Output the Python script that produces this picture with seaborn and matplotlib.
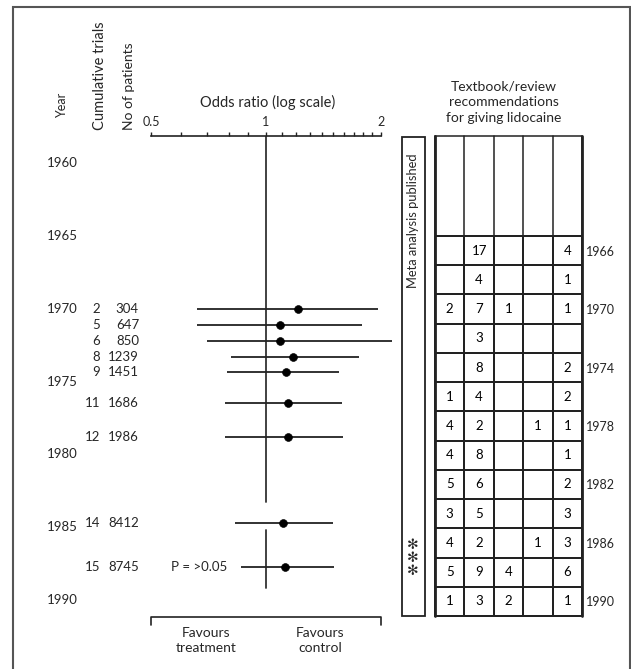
import matplotlib
matplotlib.use("Agg")
import matplotlib.pyplot as plt
import matplotlib.transforms as mtransforms
from matplotlib.colors import ListedColormap
from matplotlib.patches import Rectangle
import numpy as np
import pandas as pd
import seaborn as sns

# cumulative meta-analysis rows (forest part)
row_year = [1970.0, 1971.1, 1972.2, 1973.3, 1974.35, 1976.5, 1978.8, 1984.7, 1987.7]
cum_trials = [2, 5, 6, 8, 9, 11, 12, 14, 15]
n_patients = [304, 647, 850, 1239, 1451, 1686, 1986, 8412, 8745]
odds_ratio = [1.21, 1.09, 1.09, 1.18, 1.13, 1.14, 1.14, 1.11, 1.12]
ci_low = [0.66, 0.66, 0.70, 0.81, 0.79, 0.78, 0.78, 0.83, 0.86]
ci_high = [1.96, 1.78, 2.14, 1.75, 1.55, 1.58, 1.59, 1.50, 1.51]
year_labels = [1960, 1965, 1970, 1975, 1980, 1985, 1990]
or_ticks = [0.5, 1, 2]
or_tick_labels = ["0.5", "1", "2"]
or_minor = [0.6, 0.7, 0.8, 0.9, 1.1, 1.2, 1.3, 1.4, 1.5, 1.6, 1.7, 1.8, 1.9]

# textbook/review recommendations, one row per two years, five columns
rec_years = [1966, 1968, 1970, 1972, 1974, 1976, 1978, 1980, 1982, 1984, 1986, 1988, 1990]
rec_col1 = [None, None, 2, None, None, 1, 4, 4, 5, 3, 4, 5, 1]
rec_col2 = [17, 4, 7, 3, 8, 4, 2, 8, 6, 5, 2, 9, 3]
rec_col3 = [None, None, 1, None, None, None, None, None, None, None, None, 4, 2]
rec_col4 = [None, None, None, None, None, None, 1, None, None, None, 1, None, None]
rec_col5 = [4, 1, 1, None, 2, 2, 1, 1, 2, 3, 3, 6, 1]
rec_row_labels = ["1966", "", "1970", "", "1974", "", "1978", "", "1982", "", "1986", "", "1990"]

W, H = 631, 669


def fx(px):
    return px / W


def fy(py):
    return 1 - py / H


sns.set_theme(style="white")
plt.rcParams["font.family"] = ["Lato", "DejaVu Sans"]
plt.rcParams["font.size"] = 9
ink = "#222222"
big = 10

fig = plt.figure(figsize=(W / 100, H / 100), dpi=100)

# ---- forest plot ----
ax = fig.add_axes([fx(140), fy(616), (400 - 140) / W, (616 - 136) / H])
ax.set_xscale("log")
ax.set_xlim(0.468, 2.243)
ax.set_ylim(1991.09, 1958.15)
for s in ["left", "right", "bottom"]:
    ax.spines[s].set_visible(False)
ax.spines["top"].set_bounds(0.5, 2)
ax.spines["top"].set_color(ink)
ax.spines["top"].set_linewidth(1.2)
ax.xaxis.tick_top()
ax.set_xticks(or_ticks)
ax.set_xticklabels(or_tick_labels)
ax.set_xticks(or_minor, minor=True)
ax.xaxis.set_minor_formatter(matplotlib.ticker.NullFormatter())
ax.tick_params(axis="x", which="both", direction="out", length=3, width=1,
               color=ink, pad=3, labelsize=9, top=True, bottom=False)
ax.set_yticks([])
ax.set_facecolor("none")

ax.plot([1, 1], [1958.15, 1983.3], color="#333333", lw=1.3)
ax.plot([1, 1], [1985.2, 1989.2], color="#333333", lw=1.3)
ax.hlines(row_year, ci_low, ci_high, color=ink, lw=1.3)
forest = pd.DataFrame({"year": row_year, "or": odds_ratio})
sns.scatterplot(data=forest, x="or", y="year", ax=ax, color="black", s=32,
                edgecolor="black", zorder=3, legend=False)
ax.set_xlabel("")
ax.set_ylabel("")

ax.text(0.79, row_year[-1], "P = >0.05", ha="right", va="center", fontsize=9.5)
ax.plot([0.5, 0.5, 2, 2], [1991.7, 1991.16, 1991.16, 1991.7], color=ink, lw=1.2, clip_on=False)
ax.text(0.697, 1992.75, "Favours\ntreatment", ha="center", va="center",
        linespacing=1.3, fontsize=big)
ax.text(1.385, 1992.75, "Favours\ncontrol", ha="center", va="center",
        linespacing=1.3, fontsize=big)

trans = mtransforms.blended_transform_factory(fig.transFigure, ax.transData)
for yr in year_labels:
    ax.text(fx(47), yr, str(yr), transform=trans, ha="left", va="center", fontsize=9.5)
for yr, t, n in zip(row_year, cum_trials, n_patients):
    ax.text(fx(100), yr, str(t), transform=trans, ha="right", va="center", fontsize=9.5)
    ax.text(fx(139), yr, str(n), transform=trans, ha="right", va="center", fontsize=9.5)

fig.text(fx(62), fy(118), "Year", rotation=90, ha="center", va="bottom", fontsize=9)
fig.text(fx(100), fy(130), "Cumulative trials", rotation=90, ha="center", va="bottom", fontsize=10.5)
fig.text(fx(129), fy(130), "No of patients", rotation=90, ha="center", va="bottom", fontsize=10)
fig.text(fx(268), fy(102), "Odds ratio (log scale)", ha="center", va="center", fontsize=10.5)

# ---- recommendations table ----
annot = pd.DataFrame({"c1": rec_col1, "c2": rec_col2, "c3": rec_col3,
                      "c4": rec_col4, "c5": rec_col5}, index=rec_years)
annot_txt = annot.apply(lambda col: col.map(lambda v: "" if pd.isna(v) else str(int(v))))
axt = fig.add_axes([fx(435), fy(616), 147 / W, (616 - 236) / H])
sns.heatmap(np.zeros(annot.shape), annot=annot_txt.values, fmt="", cbar=False,
            cmap=ListedColormap(["white"]), linewidths=1.1, linecolor=ink,
            annot_kws={"color": "black", "fontsize": 9.5},
            xticklabels=False, yticklabels=rec_row_labels, ax=axt)
axt.collections[0].set_clip_on(False)
axt.yaxis.tick_right()
axt.tick_params(axis="y", length=0, pad=3, labelsize=9, rotation=0)
top_rows = -100 / 29.2
for c in range(6):
    axt.plot([c, c], [top_rows, 0], color=ink, lw=1.1, clip_on=False)
axt.plot([0, 5], [top_rows, top_rows], color=ink, lw=1.1, clip_on=False)
for c in [0, 5]:
    axt.plot([c, c], [top_rows, 13], color=ink, lw=2, clip_on=False)

fig.text(fx(504), fy(102), "Textbook/review\nrecommendations\nfor giving lidocaine",
         ha="center", va="center", linespacing=1.35, fontsize=big)

fig.add_artist(Rectangle((fx(402), fy(616)), (425 - 402) / W, (616 - 137) / H,
                         fill=False, lw=1.3, ec=ink, transform=fig.transFigure))
fig.text(fx(413), fy(221), "Meta analysis published", rotation=90, ha="center",
         va="center", fontsize=9.3)
for py in [545, 558, 571]:
    fig.text(fx(413), fy(py), "\u273b", ha="center", va="center",
             fontsize=10, family="DejaVu Sans")

# outer frame
fig.add_artist(Rectangle((fx(13), -0.05), fx(630) - fx(13), fy(7) + 0.05,
                         fill=False, lw=1.5, ec="#555555", transform=fig.transFigure))

fig.savefig("out.png", dpi=100)
